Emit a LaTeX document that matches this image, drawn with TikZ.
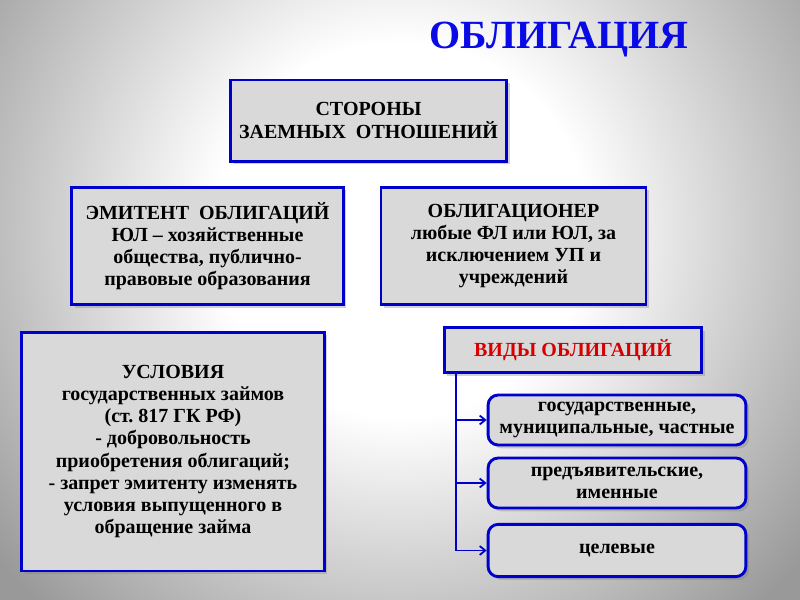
\documentclass[tikz,border=0pt]{standalone}
\usepackage{fontspec}
\setmainfont{Liberation Serif}
\usetikzlibrary{arrows.meta,shadows}
\definecolor{obblue}{RGB}{0,0,205}
\definecolor{obtitle}{RGB}{10,10,230}
\definecolor{obfill}{RGB}{217,217,217}
\definecolor{obred}{RGB}{215,0,0}
\pgfdeclareradialshading{obback}{\pgfpoint{0bp}{0bp}}{color(0bp)=(white); color(9bp)=(white); color(25bp)=(black!40); color(50bp)=(black!40)}
\tikzset{
  obbox/.style={draw=obblue, line width=2.6pt, fill=obfill, align=center,
    font=\fontsize{18}{20}\selectfont\bfseries, inner sep=2pt,
    drop shadow={opacity=0.35, shadow xshift=3pt, shadow yshift=-3pt}},
  obkind/.style={obbox, rounded corners=9pt, minimum width=232pt, minimum height=45pt},
  obarrow/.style={-{Straight Barb[length=5pt, width=8pt]}, draw=obblue, line width=1.6pt}
}

\begin{document}
\begin{tikzpicture}[x=0.9pt, y=-0.9pt]
  \useasboundingbox (0,0) rectangle (800,600);
  \begin{scope}
    \clip (0,0) rectangle (800,600);
    \fill[black!40] (0,0) rectangle (800,600);
    \shade[shading=obback] (400,230) circle (520);
  \end{scope}
  \node[font=\fontsize{36}{40}\selectfont\bfseries, text=obtitle] (title) at (559,40) {ОБЛИГАЦИЯ};
  \node[obbox, minimum width=249pt, minimum height=73pt] (sides) at (368.5,120.5) {СТОРОНЫ\\ЗАЕМНЫХ~~ОТНОШЕНИЙ};
  \node[obbox, minimum width=244pt, minimum height=106pt] (emit) at (207.5,246) {ЭМИТЕНТ~~ОБЛИГАЦИЙ\\ЮЛ – хозяйственные\\общества, публично-\\правовые образования};
  \node[obbox, minimum width=238.5pt, minimum height=106pt] (holder) at (513.5,246) {ОБЛИГАЦИОНЕР\\любые ФЛ или ЮЛ, за\\исключением УП и\\учреждений};
  \node[obbox, minimum width=272pt, minimum height=215pt] (terms) at (173,451.5) {УСЛОВИЯ\\государственных займов\\(ст.\ 817 ГК РФ)\\- добровольность\\приобретения облигаций;\\- запрет эмитенту изменять\\условия выпущенного в\\обращение займа};
  \node[obbox, text=obred, minimum width=232pt, minimum height=40pt] (kinds) at (573,350) {ВИДЫ ОБЛИГАЦИЙ};
  \node[obkind] (kgos) at (617,420) {государственные,\\муниципальные, частные};
  \node[obkind] (kpred) at (617,483) {предъявительские,\\именные};
  \node[obkind, minimum height=47pt] (kcel) at (617,550.5) {целевые};
  \coordinate (vtop) at ([xshift=11.7pt]kinds.south west);
  \foreach \k in {kgos,kpred,kcel}
    \draw[obarrow] (vtop) |- (\k.west);
\end{tikzpicture}
\end{document}
